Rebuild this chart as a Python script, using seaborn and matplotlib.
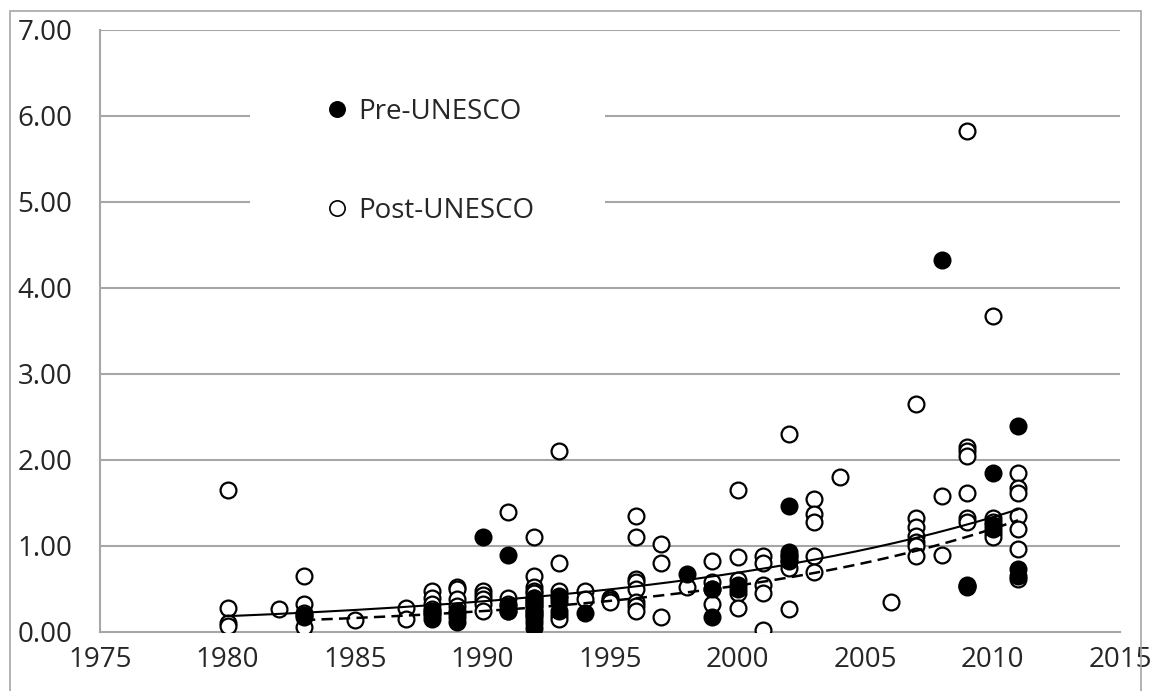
import numpy as np
import pandas as pd
import matplotlib
matplotlib.use("Agg")
import matplotlib.pyplot as plt
from matplotlib.lines import Line2D
from matplotlib.patches import Rectangle
import seaborn as sns

# Post-UNESCO (open circles)
post_years = (
    [1980] * 4 + [1982] + [1983] * 4 + [1985] + [1987] * 2 + [1988] * 5
    + [1989] * 5 + [1990] * 5 + [1991] * 4 + [1992] * 10 + [1993] * 6
    + [1994] * 2 + [1995] * 3 + [1996] * 8 + [1997] * 3 + [1998]
    + [1999] * 4 + [2000] * 5 + [2001] * 5 + [2002] * 5 + [2003] * 5
    + [2004] + [2006] + [2007] * 7 + [2008] * 2 + [2009] * 8
    + [2010] * 5 + [2011] * 7
)
post_values = [
    1.65, 0.28, 0.10, 0.07,
    0.27,
    0.65, 0.32, 0.22, 0.06,
    0.14,
    0.28, 0.15,
    0.48, 0.40, 0.33, 0.27, 0.22,
    0.52, 0.50, 0.38, 0.30, 0.22,
    0.48, 0.43, 0.38, 0.32, 0.25,
    1.40, 0.40, 0.33, 0.25,
    1.10, 0.65, 0.52, 0.48, 0.45, 0.40, 0.35, 0.30, 0.25, 0.20,
    2.10, 0.80, 0.48, 0.40, 0.20, 0.15,
    0.48, 0.38,
    0.40, 0.37, 0.35,
    1.35, 1.10, 0.62, 0.58, 0.50, 0.35, 0.30, 0.25,
    1.02, 0.80, 0.18,
    0.52,
    0.82, 0.58, 0.50, 0.33,
    1.65, 0.87, 0.60, 0.45, 0.28,
    0.88, 0.80, 0.55, 0.45, 0.02,
    2.30, 0.88, 0.82, 0.75, 0.27,
    1.55, 1.37, 1.28, 0.88, 0.70,
    1.80,
    0.35,
    2.65, 1.33, 1.22, 1.12, 1.05, 1.00, 0.88,
    1.58, 0.90,
    5.82, 2.15, 2.10, 2.05, 1.62, 1.32, 1.28, 0.52,
    3.67, 1.32, 1.28, 1.15, 1.10,
    1.85, 1.68, 1.62, 1.35, 1.20, 0.97, 0.62,
]

# Pre-UNESCO (filled circles)
pre_years = (
    [1983] * 2 + [1988] * 3 + [1989] * 3 + [1990] + [1991] * 3
    + [1992] * 8 + [1993] * 3 + [1994] + [1998] + [1999] * 2
    + [2000] * 2 + [2002] * 4 + [2008] + [2009] * 2 + [2010] * 3
    + [2011] * 3
)
pre_values = [
    0.20, 0.18,
    0.15, 0.20, 0.25,
    0.12, 0.18, 0.25,
    1.10,
    0.90, 0.25, 0.30,
    0.05, 0.10, 0.15, 0.20, 0.25, 0.30, 0.35, 0.40,
    0.25, 0.35, 0.42,
    0.22,
    0.68,
    0.18, 0.50,
    0.55, 0.50,
    1.47, 0.93, 0.88, 0.82,
    4.33,
    0.55, 0.53,
    1.85, 1.25, 1.20,
    2.40, 0.73, 0.65,
]

x_ticks = list(range(1975, 2016, 5))
y_ticks = list(range(0, 8))


def exp_trend(years, values):
    """Excel-style exponential trendline over the series' x range"""
    x = np.array(years, dtype=float)
    y = np.array(values, dtype=float)
    b, ln_a = np.polyfit(x, np.log(y), 1)
    xs = np.linspace(x.min(), x.max(), 200)
    return xs, np.exp(ln_a + b * xs)


df = pd.concat([
    pd.DataFrame({"year": pre_years, "value": pre_values, "group": "Pre-UNESCO"}),
    pd.DataFrame({"year": post_years, "value": post_values, "group": "Post-UNESCO"}),
], ignore_index=True)

sns.set_theme(style="white")
plt.rcParams["font.family"] = ["Open Sans", "DejaVu Sans"]

fig = plt.figure(figsize=(11.5, 6.91), dpi=100)
ax = fig.add_axes([100 / 1150, 59 / 691, 1020 / 1150, 602 / 691])

grid_c = "#a6a6a6"
for yv in y_ticks[1:]:
    ax.axhline(yv, color=grid_c, lw=1.5, zorder=1)

# white box behind the legend, as in the original
ax.add_patch(Rectangle((0.147, 0.60), 0.348, 0.33, transform=ax.transAxes,
                       facecolor="white", edgecolor="none", zorder=1.5))

sns.scatterplot(data=df[df.group == "Post-UNESCO"], x="year", y="value", ax=ax,
                marker="o", s=130, facecolor="white", edgecolor="black",
                linewidth=1.6, zorder=3, legend=False)
sns.scatterplot(data=df[df.group == "Pre-UNESCO"], x="year", y="value", ax=ax,
                marker="o", s=130, color="black", edgecolor="black",
                linewidth=1.6, zorder=4, legend=False)

xs, ys = exp_trend(post_years, post_values)
ax.plot(xs, ys, color="black", lw=1.5, zorder=5)
xs, ys = exp_trend(pre_years, pre_values)
ax.plot(xs, ys, color="black", lw=1.8, dashes=(4.5, 2.5), zorder=5)

handles = [
    Line2D([], [], marker="o", ls="none", markersize=11, markerfacecolor="black",
           markeredgecolor="black", markeredgewidth=1.2),
    Line2D([], [], marker="o", ls="none", markersize=11, markerfacecolor="white",
           markeredgecolor="black", markeredgewidth=1.2),
]
ax.legend(handles, ["Pre-UNESCO", "Post-UNESCO"], loc="center left",
          bbox_to_anchor=(0.219, 0.7816), frameon=False, fontsize=20,
          labelspacing=2.57, handletextpad=0.25, handlelength=1.0,
          borderpad=0, borderaxespad=0)

ax.set_xlim(1975, 2015)
ax.set_ylim(0, 7)
ax.set_xticks(x_ticks)
ax.set_yticks(y_ticks)
ax.set_yticklabels([f"{v:.2f}" for v in y_ticks])
ax.set_xlabel("")
ax.set_ylabel("")
ax.tick_params(axis="both", labelsize=20, color=grid_c, width=1.5,
               direction="out")
ax.tick_params(axis="y", length=8, pad=12)
ax.tick_params(axis="x", length=6, pad=4)
for side in ["top", "right"]:
    ax.spines[side].set_visible(False)
for side in ["left", "bottom"]:
    ax.spines[side].set_color(grid_c)
    ax.spines[side].set_linewidth(1.5)
ax.grid(False)

# outer chart-area border
fig.add_artist(Rectangle((10 / 1150, -0.05), 1131 / 1150, 1 - 11 / 691 + 0.05,
                         transform=fig.transFigure, fill=False,
                         edgecolor=grid_c, lw=1.2))

fig.savefig("out.png", dpi=100)
